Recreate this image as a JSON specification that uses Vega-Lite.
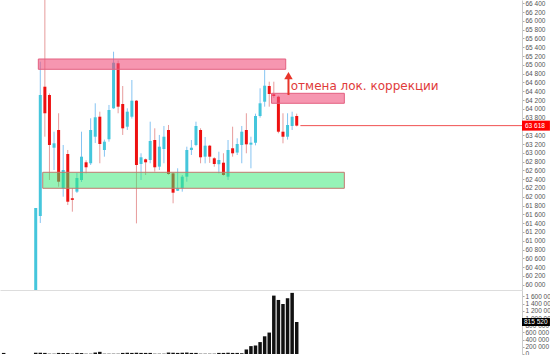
{
  "$schema": "https://vega.github.io/schema/vega-lite/v6.json",
  "padding": 0,
  "background": "white",
  "spacing": 0,
  "bounds": "flush",
  "config": {
    "view": {"stroke": null},
    "locale": {"number": {"decimal": ".", "thousands": " ", "grouping": [3], "currency": ["", ""]}},
    "axis": {"labelFont": "Liberation Sans", "labelFontSize": 6.5, "labelColor": "#555555", "tickColor": "#aaaaaa", "tickSize": 2, "domainColor": "#cccccc", "labelPadding": 1, "grid": false, "title": null, "labelOverlap": false, "labelFlush": false}
  },
  "datasets": {
    "candles": [
      {"i": -7, "v": 30000},
      {"i": 0, "o": 59500, "h": 61745, "l": 59500, "c": 61745, "v": 35000},
      {"i": 1, "o": 61563, "h": 65072, "l": 61404, "c": 64315, "v": 35000},
      {"i": 2, "o": 64503, "h": 66500, "l": 63366, "c": 63899, "v": 30000},
      {"i": 3, "o": 64315, "h": 64350, "l": 62382, "c": 63178, "v": 8000},
      {"i": 4, "o": 63116, "h": 63480, "l": 62609, "c": 63216, "v": 8000},
      {"i": 5, "o": 63519, "h": 63899, "l": 62229, "c": 62343, "v": 30000},
      {"i": 6, "o": 62193, "h": 63178, "l": 62002, "c": 62609, "v": 30000},
      {"i": 7, "o": 62973, "h": 63064, "l": 61813, "c": 61888, "v": 25000},
      {"i": 8, "o": 61966, "h": 62200, "l": 61661, "c": 61930, "v": 8000},
      {"i": 9, "o": 62116, "h": 62541, "l": 62086, "c": 62427, "v": 30000},
      {"i": 10, "o": 62382, "h": 63480, "l": 62337, "c": 62912, "v": 25000},
      {"i": 11, "o": 62784, "h": 62830, "l": 62533, "c": 62671, "v": 8000},
      {"i": 12, "o": 62762, "h": 63785, "l": 62723, "c": 63519, "v": 8000},
      {"i": 13, "o": 63366, "h": 64126, "l": 63223, "c": 63808, "v": 40000},
      {"i": 14, "o": 63821, "h": 63935, "l": 62762, "c": 63200, "v": 60000},
      {"i": 15, "o": 63064, "h": 63300, "l": 62912, "c": 63253, "v": 8000},
      {"i": 16, "o": 63308, "h": 64088, "l": 63253, "c": 63974, "v": 8000},
      {"i": 17, "o": 64012, "h": 65299, "l": 64000, "c": 65049, "v": 8000},
      {"i": 18, "o": 65036, "h": 65100, "l": 63899, "c": 64049, "v": 8000},
      {"i": 19, "o": 64110, "h": 64519, "l": 63406, "c": 63557, "v": 30000},
      {"i": 20, "o": 63594, "h": 64012, "l": 63519, "c": 63935, "v": 35000},
      {"i": 21, "o": 63821, "h": 64656, "l": 63780, "c": 64185, "v": 30000},
      {"i": 22, "o": 64185, "h": 64200, "l": 61395, "c": 62723, "v": 35000},
      {"i": 23, "o": 62746, "h": 62989, "l": 62382, "c": 62898, "v": 30000},
      {"i": 24, "o": 62852, "h": 62870, "l": 62495, "c": 62784, "v": 30000},
      {"i": 25, "o": 62837, "h": 63708, "l": 62762, "c": 63269, "v": 30000},
      {"i": 26, "o": 63291, "h": 63557, "l": 62571, "c": 62671, "v": 8000},
      {"i": 27, "o": 62685, "h": 63406, "l": 62609, "c": 63139, "v": 8000},
      {"i": 28, "o": 63087, "h": 63610, "l": 62762, "c": 63366, "v": 8000},
      {"i": 29, "o": 63519, "h": 63633, "l": 62500, "c": 62518, "v": 40000},
      {"i": 30, "o": 62533, "h": 62560, "l": 61852, "c": 62093, "v": 35000},
      {"i": 31, "o": 62138, "h": 62648, "l": 62130, "c": 62193, "v": 30000},
      {"i": 32, "o": 62193, "h": 62495, "l": 62116, "c": 62457, "v": 35000},
      {"i": 33, "o": 62457, "h": 63139, "l": 62343, "c": 63064, "v": 40000},
      {"i": 34, "o": 63064, "h": 63291, "l": 62950, "c": 63116, "v": 30000},
      {"i": 35, "o": 63178, "h": 63708, "l": 63150, "c": 63610, "v": 30000},
      {"i": 36, "o": 63519, "h": 63557, "l": 62762, "c": 62898, "v": 8000},
      {"i": 37, "o": 62912, "h": 63360, "l": 62760, "c": 63162, "v": 8000},
      {"i": 38, "o": 63162, "h": 63180, "l": 62770, "c": 62912, "v": 8000},
      {"i": 39, "o": 62875, "h": 62900, "l": 62685, "c": 62746, "v": 8000},
      {"i": 40, "o": 62740, "h": 63025, "l": 62533, "c": 62837, "v": 30000},
      {"i": 41, "o": 62775, "h": 62990, "l": 62480, "c": 62495, "v": 30000},
      {"i": 42, "o": 62457, "h": 63291, "l": 62382, "c": 63064, "v": 35000},
      {"i": 43, "o": 63103, "h": 63594, "l": 62912, "c": 62989, "v": 30000},
      {"i": 44, "o": 63005, "h": 63330, "l": 62950, "c": 63200, "v": 30000},
      {"i": 45, "o": 63178, "h": 63610, "l": 62762, "c": 63480, "v": 20000},
      {"i": 46, "o": 63519, "h": 63899, "l": 62989, "c": 63193, "v": 126000},
      {"i": 47, "o": 63185, "h": 63366, "l": 62648, "c": 63230, "v": 219000},
      {"i": 48, "o": 63230, "h": 63890, "l": 63170, "c": 63837, "v": 239000},
      {"i": 49, "o": 63837, "h": 64467, "l": 63800, "c": 64126, "v": 331000},
      {"i": 50, "o": 64162, "h": 64883, "l": 64049, "c": 64526, "v": 492000},
      {"i": 51, "o": 64519, "h": 64617, "l": 64049, "c": 64337, "v": 596000},
      {"i": 52, "o": 64330, "h": 64617, "l": 64250, "c": 64292, "v": 1624000},
      {"i": 53, "o": 64276, "h": 64300, "l": 63444, "c": 63480, "v": 1503000},
      {"i": 54, "o": 63480, "h": 63899, "l": 63216, "c": 63366, "v": 1390000},
      {"i": 55, "o": 63366, "h": 63899, "l": 63300, "c": 63633, "v": 1551000},
      {"i": 56, "o": 63610, "h": 63935, "l": 63519, "c": 63821, "v": 1700000},
      {"i": 57, "o": 63837, "h": 63890, "l": 63600, "c": 63618, "v": 890000, "tag": "815 520"}
    ],
    "zones": [
      {"kind": "pink", "x1": 0.57, "x2": 54.6, "p1": 64899, "p2": 65133},
      {"kind": "pink", "x1": 51.5, "x2": 67.4, "p1": 64126, "p2": 64353},
      {"kind": "green", "x1": 1.53, "x2": 67.4, "p1": 62193, "p2": 62557}
    ],
    "arrow": [
      {"i": 55.2, "from": 64315, "to": 64690, "tip": 64754}
    ],
    "notes": [
      {"i": 55.7, "p": 64519, "t": "отмена лок. коррекции"}
    ]
  },
  "vconcat": [
    {
      "width": 522,
      "height": 290,
      "data": {"name": "candles"},
      "layer": [
        {
          "mark": {"type": "rule", "strokeWidth": 1, "clip": true},
          "encoding": {
            "x": {"field": "i", "type": "quantitative", "scale": {"domain": [-7.8, 106.2], "nice": false, "zero": false, "padding": 0}, "axis": null},
            "y": {"field": "l", "type": "quantitative", "scale": {"domain": [59880, 66475], "nice": false, "zero": false, "padding": 0}, "axis": {"orient": "right", "tickCount": 40, "values": [60000, 60200, 60400, 60600, 60800, 61000, 61200, 61400, 61600, 61800, 62000, 62200, 62400, 62600, 62800, 63000, 63200, 63400, 63600, 63800, 64000, 64200, 64400, 64600, 64800, 65000, 65200, 65400, 65600, 65800, 66000, 66200, 66400], "format": ",d", "labelOverlap": false}},
            "y2": {"field": "h"},
            "color": {"condition": {"test": "datum.c >= datum.o", "value": "#86c4f2"}, "value": "#e79c9c"}
          }
        },
        {
          "mark": {"type": "bar", "width": 3, "clip": true},
          "encoding": {
            "x": {"field": "i", "type": "quantitative"},
            "y": {"field": "o", "type": "quantitative"},
            "y2": {"field": "c"},
            "color": {"condition": {"test": "datum.c >= datum.o", "value": "#45c6dc"}, "value": "#ee1010"}
          }
        },
        {
          "data": {"name": "zones"},
          "mark": {"type": "rect", "strokeWidth": 1, "clip": true},
          "encoding": {
            "x": {"field": "x1", "type": "quantitative"},
            "x2": {"field": "x2"},
            "y": {"field": "p1", "type": "quantitative"},
            "y2": {"field": "p2"},
            "fill": {"condition": {"test": "datum.kind == 'pink'", "value": "#f0507c"}, "value": "#2ee870"},
            "fillOpacity": {"condition": {"test": "datum.kind == 'pink'", "value": 0.6}, "value": 0.5},
            "stroke": {"condition": {"test": "datum.kind == 'pink'", "value": "#e36080"}, "value": "#c27a70"}
          }
        },
        {
          "transform": [{"filter": "datum.i == 57"}],
          "mark": {"type": "rule", "color": "#f05050", "strokeWidth": 1},
          "encoding": {
            "x": {"datum": 57.8, "type": "quantitative"},
            "x2": {"datum": 106.2},
            "y": {"field": "c", "type": "quantitative"}
          }
        },
        {
          "data": {"name": "arrow"},
          "mark": {"type": "rule", "color": "#e8352a", "strokeWidth": 2},
          "encoding": {
            "x": {"field": "i", "type": "quantitative"},
            "y": {"field": "from", "type": "quantitative"},
            "y2": {"field": "to"}
          }
        },
        {
          "data": {"name": "arrow"},
          "mark": {"type": "point", "shape": "triangle-up", "size": 72, "filled": true, "opacity": 1, "color": "#e8352a"},
          "encoding": {
            "x": {"field": "i", "type": "quantitative"},
            "y": {"field": "tip", "type": "quantitative"}
          }
        },
        {
          "data": {"name": "notes"},
          "mark": {"type": "text", "align": "left", "baseline": "middle", "font": "DejaVu Sans", "fontSize": 12, "color": "#e03a3a"},
          "encoding": {
            "x": {"field": "i", "type": "quantitative"},
            "y": {"field": "p", "type": "quantitative"},
            "text": {"field": "t"}
          }
        },
        {
          "transform": [{"filter": "datum.i == 57"}],
          "mark": {"type": "bar", "orient": "horizontal", "height": 10, "color": "#ff0000"},
          "encoding": {
            "x": {"datum": 106.2, "type": "quantitative"},
            "x2": {"datum": 112.3},
            "y": {"field": "c", "type": "quantitative"}
          }
        },
        {
          "transform": [{"filter": "datum.i == 57"}],
          "mark": {"type": "text", "align": "left", "baseline": "middle", "dx": 3, "font": "Liberation Sans", "fontSize": 6.5, "color": "white"},
          "encoding": {
            "x": {"datum": 106.2, "type": "quantitative"},
            "y": {"field": "c", "type": "quantitative"},
            "text": {"field": "c", "type": "quantitative", "format": ",d"}
          }
        }
      ]
    },
    {
      "width": 522,
      "height": 65,
      "data": {"name": "candles"},
      "layer": [
        {
          "mark": {"type": "bar", "width": 3.5, "color": "#111111", "clip": true},
          "encoding": {
            "x": {"field": "i", "type": "quantitative", "scale": {"domain": [-7.8, 106.2], "nice": false, "zero": false, "padding": 0}, "axis": {"orient": "top", "labels": false, "ticks": false, "domain": true, "domainColor": "#dddddd"}},
            "y": {"field": "v", "type": "quantitative", "scale": {"domain": [-28000, 1780000], "nice": false, "padding": 0}, "axis": {"orient": "right", "tickCount": 12, "values": [0, 200000, 400000, 600000, 800000, 1000000, 1200000, 1400000, 1600000], "format": ",d", "labelOverlap": false}}
          }
        },
        {
          "transform": [{"filter": "datum.i == 57"}],
          "mark": {"type": "bar", "orient": "horizontal", "height": 8, "color": "#000000"},
          "encoding": {
            "x": {"datum": 106.2, "type": "quantitative"},
            "x2": {"datum": 112.3},
            "y": {"field": "v", "type": "quantitative"}
          }
        },
        {
          "transform": [{"filter": "datum.i == 57"}],
          "mark": {"type": "text", "align": "left", "baseline": "middle", "dx": 2, "font": "Liberation Sans", "fontSize": 6.5, "color": "white"},
          "encoding": {
            "x": {"datum": 106.2, "type": "quantitative"},
            "y": {"field": "v", "type": "quantitative"},
            "text": {"field": "tag"}
          }
        }
      ]
    }
  ]
}
